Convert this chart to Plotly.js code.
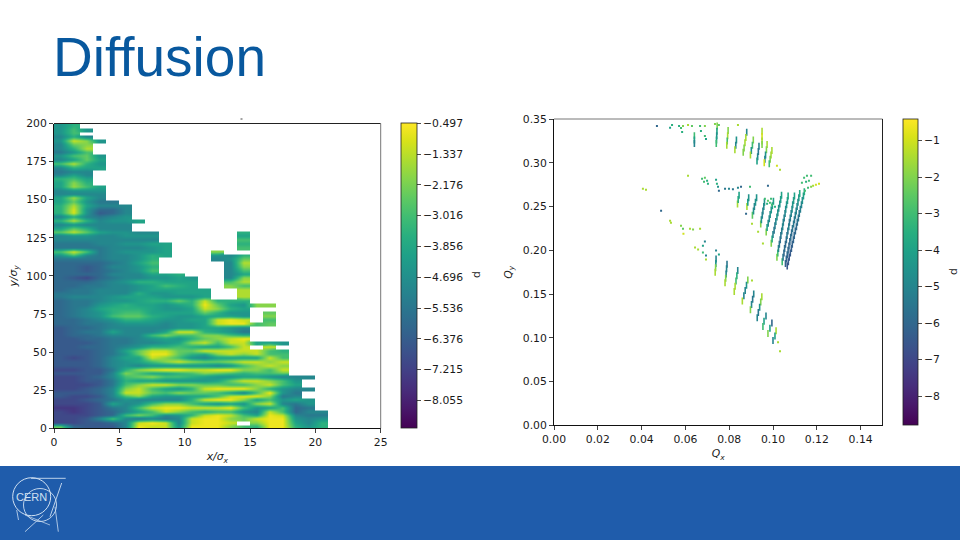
<!DOCTYPE html>
<html>
<head>
<meta charset="utf-8">
<script src="https://cdn.plot.ly/plotly-3.0.1.min.js"></script>
<style>html,body{margin:0;padding:0;background:#fff}#c{width:960px;height:540px}</style>
</head>
<body>
<div id="c"></div>
<script>
const _ = null;
const titleText = "Diffusion";
const leftColorTicks = [-0.497,-1.337,-2.176,-3.016,-3.856,-4.696,-5.536,-6.376,-7.215,-8.055];
const rightColorTicks = [-1,-2,-3,-4,-5,-6,-7,-8];

// d on the x/sigma_x, y/sigma_y grid; first row y=198.75, last y=1.25, columns x=0.5..20.5
const dRows = [
[-4.5,-3.5],
[-4.5,-3,-4.5],
[-4.5,-3],
[-5,-3.5,-5],
[-4.5,-1.2,-2,-4.5],
[-5,-2.5,-2],
[-5,-3.5,-1.5],
[-5.5,-4.5,-3],
[-4.5,-3,-2.5,-4.5],
[-5,-4,-2.5,-4],
[-3,-1.5,-3.5,-4.5],
[-5,-3.5,-4,-4],
[-5.5,-5,-5],
[-5,-4,-5],
[-3.5,-3,-4],
[-4,-2,-3.5],
[-4,-1.8,-3,-4],
[-5,-4.5,-4.5,-4.5],
[-5,-5,-5,-5],
[-4,-1.8,-4,-5],
[-4,-2.5,-4.5,-5.5,-5.5],
[-3.5,-1.5,-4,-5,-5,-5],
[-3.5,-1,-4.5,-6,-6,-5],
[-3.5,-1,-4.5,-6.5,-6,-5],
[-5,-3.5,-5,-5.5,-5,-4.5],
[-3.5,-1.5,-3.5,-5,-4.5,-4.5,-4],
[-5,-4.5,-5,-5,-5,-5],
[-4,-2.5,-3.5,-5,-5,-5],
[-2.5,-1.2,-2.5,-4,-4.5,-4.5,-5,-5,_,_,_,_,_,_,-3.5],
[-5,-4.5,-4.5,-5,-5,-4.5,-4.5,-4.5,_,_,_,_,_,_,-4],
[-5,-5,-5,-5,-5,-5,-5,-5,_,_,_,_,_,_,-3],
[-5.5,-5.5,-5.5,-5,-5,-4.5,-4.5,-4,-4,_,_,_,_,_,-3.5],
[-5.5,-5.5,-5.5,-5.5,-5,-5,-5,-4.5,-4,_,_,_,_,_,-3],
[-3,-1.2,-3,-5.5,-5,-4.5,-4.5,-4.5,-4,_,_,_,-2,_,_],
[-4.5,-3,-5,-5.5,-5,-5,-4.5,-3.5,-4,_,_,_,-4.5,-5,-3.5],
[-5.5,-5.5,-5.5,-5.5,-5,-5,-4.5,-3.5,_,_,_,_,-5,-4.5,-2.5],
[-6,-6,-6,-6,-5.5,-5,-4,-3,_,_,_,_,_,-5,-1.5],
[-6,-6,-6.5,-6,-5,-5,-4.5,-3.5,_,_,_,_,_,-5,-2],
[-6,-6,-6.5,-6,-5.5,-5,-4.5,-3,_,_,_,_,_,-5,-3],
[-6,-6,-6,-6,-5,-5,-5,-4,-4,-3.5,_,_,_,-5,-4],
[-6,-6.5,-7,-6,-5.5,-5,-5,-4.5,-4.5,-4,-4.5,_,_,-5,-2],
[-6,-6,-6,-5.5,-5,-4.5,-3.5,-3.5,-4,-4,-4,_,_,-3,-1.5],
[-6,-6,-5.5,-5.5,-5,-5,-4.5,-4,-3,-3.5,-4,_,_,-2,-3],
[-6,-5.5,-5.5,-5,-5,-5,-4.5,-4,-4,-4,-4,-4,_,_,-1.5],
[-5.5,-5.5,-5.5,-5,-5,-5,-3.5,-4.5,-4.5,-4,-4,-4,_,_,-1.5],
[-5.5,-5,-5,-5,-4.5,-4,-4,-4,-4.5,-4.5,-4.5,-4,_,_,-1.5],
[-6,-5.5,-5.5,-5,-4.5,-4.5,-4,-3.5,-3.5,-2.5,-3.5,-1.2,-3.5,-3.5,-3.5],
[-6,-5.5,-5.5,-4.5,-4,-3.5,-4,-4,-4.5,-4,-3.5,-0.7,-2.5,-4,-4.5,-2,-2],
[-6,-5.5,-5,-4,-3.5,-3.5,-3.5,-4,-4.5,-4.5,-4,-1.2,-2,-3.5,-4],
[-6,-5.5,-5,-4.5,-3.5,-3,-3,-4,-4,-4,-4,-2.5,-3.5,-4.5,-4.5,_,-2.5],
[-6,-5.5,-5,-4.5,-3,-2.5,-2.5,-3.5,-4,-4.5,-4.5,-4,-4,-4,-4.5,_,-2],
[-6,-6,-5.5,-5,-4.5,-3.5,-3.5,-4,-4.5,-4.5,-4,-4,-1.2,-0.7,-1.2,_,-3],
[-6,-6,-5.5,-5.5,-5,-4.5,-4.5,-4.5,-5,-4.5,-4.5,-4,-1.2,-0.7,-0.7,-3,-2.5],
[-6.5,-6,-6,-5.5,-5,-5,-5,-5,-5,-4.5,-4.5,-4,-4,-4.5,-5],
[-6.5,-6,-5.5,-5.5,-4,-5,-5,-5,-4,-1.2,-1.2,-3.5,-4,-4.5,-5.5],
[-6.5,-6,-6,-5.5,-5,-5,-5,-3,-2,-3,-3,-2,-2,-3,-3.5],
[-6.5,-6.5,-6,-6,-5.5,-5.5,-5,-4.5,-4,-4.5,-3.5,-2.5,-2,-1.2,-0.7],
[-6.5,-6.5,-6.5,-6,-5.5,-5.5,-5,-5,-4.5,-4,-2,-1.2,-3,-1.2,-1.2,-4,-4,-4.5],
[-6.5,-6.5,-6,-6,-5.5,-5,-4.5,-3.5,-3.5,-3,-3.5,-4,-4,-3,-1.2,_,-1.2],
[-6.5,-6.5,-6.5,-6,-5.5,-4,-2.5,-1.2,-1.2,-2.5,-2.5,-1.2,-1.2,-1.2,-1.2,-1.2,-3,-3.5],
[-6.5,-6.5,-6.5,-6,-5.5,-4.5,-2.5,-0.7,-0.7,-2.5,-3.5,-4,-2,-1.2,-2,-1.2,-3,-3],
[-6.5,-7,-6.5,-6,-5,-4,-4,-1.2,-2,-3,-4.5,-5,-4,-4,-4,-4,-1.2,-3],
[-6.5,-6.5,-6.5,-6,-5,-4.5,-4,-3,-2,-1.2,-2,-2.5,-2.5,-2,-1.2,-1.2,-2,-1.2],
[-6.5,-6.5,-6.5,-6,-5,-4.5,-5,-4.5,-4.5,-4.5,-4.5,-4.5,-5,-4.5,-3,-2,-1.2,-2],
[-7,-7,-6.5,-6.5,-5.5,-3.5,-2,-1.2,-0.7,-0.7,-1.2,-1.2,-0.7,-0.7,-2,-2,-3,-1.2],
[-6.5,-6.5,-6.5,-6.5,-5,-2,-3,-4,-4,-3.5,-3,-2,-2.5,-3,-3.5,-3,-3,-2.5],
[-7,-7,-6.5,-6,-5,-3,-2.5,-2,-3,-3,-3.5,-4,-4.5,-4.5,-4,-4,-4.5,-5,-5,-5],
[-7,-7,-6.5,-6.5,-5.5,-3.5,-4,-4,-4.5,-4.5,-4.5,-4.5,-4,-2.5,-1.2,-1.2,-2,-3,-4.5],
[-7,-7,-7,-6.5,-5.5,-3,-2,-1.2,-1.2,-2,-2,-2.5,-2.5,-3,-3,-2,-1.2,-3,-4],
[-7,-7,-6.5,-6,-5,-2,-1.2,-3,-4,-4.5,-3.5,-1.2,-0.7,-0.7,-0.7,-2,-3.5,-4.5,-5,-5],
[-6.5,-6.5,-6.5,-6,-5,-1.2,-1.2,-2.5,-3,-2,-2.5,-2.5,-3,-4,-5,-3,-0.7,-4.5,-5.5],
[-6.5,-7,-7,-6.5,-5,-3,-2,-4,-4.5,-4.5,-4,-4,-3,-1.2,-0.7,-0.7,-2,-5.5,-5],
[-7,-7,-6.5,-6,-5.5,-4.5,-5,-5,-5,-5,-3.5,-1.2,-0.7,-0.7,-2,-4,-3,-4.5,-4,-4.5],
[-7,-7,-7,-6.5,-4,-5,-4.5,-3,-2,-2,-3,-4,-4.5,-4,-4.5,-2,-1.2,-5,-5.5,-4.5],
[-7.5,-7.5,-7,-6.5,-5.5,-5,-3,-1.2,-0.7,-0.7,-1.2,-1.2,-1.2,-0.7,-3,-4.5,-4,-3,-6,-5.5],
[-7,-7.5,-7,-6.5,-6,-5,-4,-3,-1.2,-2,-3,-3.5,-3,-3,-4.5,-5,-1.2,-3,-6,-5,-5],
[-7,-7,-7,-6.5,-6,-3,-2,-3,-5,-4.5,-3.5,-1.2,-0.7,-1.2,-3,-4,-0.7,-1.2,-5,-5.5,-5.5],
[-7,-7,-6.5,-5,-3,-5,-5.5,-5,-5.5,-5,-1.2,-0.7,-0.7,-2,-2.5,-1.2,-0.7,-0.7,-4.5,-5,-4.5],
[-7,-7,-6.5,-6.5,-6,-5,-1.2,-0.7,-1.2,-5,-1.2,-0.7,-0.7,-1.2,_,-2,-0.7,-0.7,-4,-5,-3.5],
[-2.5,-6,-6.5,-6.5,-6.5,-5,-0.7,-1.2,-1.2,-4.5,-0.7,-0.7,-0.7,-2,-3,-3.5,-0.7,-0.7,-3.5,-4.5,-3.5]
];

// tune footprint: core stripes
const coreQx = [.1065,.1070,.1074,.1079,.1084,.1088,.1093,.1097,.1102,.1107,.1111,.1116,.1120,.1125,.1130,.1134,.1139,.1143,
.1057,.1061,.1065,.1069,.1073,.1077,.1081,.1085,.1089,.1094,.1098,.1102,.1106,.1110,.1114,.1118,.1122,
.1042,.1046,.1050,.1053,.1057,.1061,.1064,.1068,.1072,.1075,.1079,.1083,.1087,.1090,.1094,.1098,
.1018,.1022,.1025,.1029,.1033,.1036,.1040,.1044,.1047,.1051,.1055,.1058,.1062,.1066,.1069,
.0992,.0996,.1000,.1005,.1009,.1013,.1018,.1022,.1026,.1031,.1035,.1039,
.0969,.0973,.0978,.0983,.0987,.0992,.0997,.1002,
.0944,.0947,.0951,.0954,.0958,.0961,
.0906,.0911,.0915,.0920,.0925,
.0881,.0885,.0889,
.0838,.0841,.0845];
const coreQy = [.182,.187,.192,.197,.202,.207,.212,.217,.222,.227,.232,.237,.242,.247,.252,.257,.262,.267,
.185,.190,.195,.200,.205,.210,.215,.220,.225,.230,.235,.240,.245,.250,.255,.260,.265,
.187,.192,.197,.202,.207,.212,.217,.222,.227,.232,.237,.242,.247,.252,.257,.262,
.192,.197,.202,.207,.212,.217,.222,.227,.232,.237,.242,.247,.252,.257,.262,
.208,.213,.218,.223,.228,.233,.238,.243,.248,.253,.258,.263,
.221,.226,.231,.236,.241,.246,.251,.256,
.230,.235,.240,.245,.250,.255,
.240,.245,.250,.255,.260,
.250,.255,.260,
.253,.258,.263];
const coreD = [-6.6,-6.5,-6.5,-6.4,-6.3,-6.2,-6.1,-6,-6,-5.9,-5.7,-5.5,-5.5,-5.2,-5,-4.6,-4.2,-3.6,
-6.2,-6.2,-6,-6,-6.1,-6,-5.8,-5.8,-5.6,-5.5,-5.5,-5.3,-5,-5,-4.6,-4.3,-3.8,
-3,-5.5,-6,-5.8,-6,-5.8,-5.5,-5.5,-5,-5.5,-5.3,-5,-4.8,-4.5,-4.2,-4,
-2,-3,-5,-5.5,-5.8,-5.5,-5.3,-5,-5,-5.2,-5,-4.8,-4.5,-4.2,-3.8,
-2,-3.5,-5,-5.5,-5.3,-5,-4.5,-4.5,-4.6,-4.5,-4.2,-4,
-2,-4,-4.8,-4.8,-4.5,-4.4,-4,-4,
-2,-4.5,-5,-5,-4.8,-4.5,
-2.5,-4.5,-5,-4.5,-4.5,
-1.5,-4,-4.5,
-1.5,-3.5,-4];

// upper wing stripes
const upperQx = [.0745,.0744,.0743,.0742,.0741, .0641,.0641,.0641, .0795,.0793,.0791,.0789, .0833,.0830,.0826,
.0880,.0876,.0872,.0868,.0864, .0910,.0906,.0901,.0897, .0936,.0933,.0930,.0927, .0950,.0950,.0950,.0950,
.0973,.0970,.0966,.0963,.0960, .0995,.0991,.0987,.0983];
const upperQy = [.342,.336,.331,.326,.322, .331,.326,.322, .337,.331,.325,.320, .326,.320,.315,
.335,.329,.323,.317,.312, .326,.320,.314,.309, .319,.313,.307,.302, .336,.330,.325,.321,
.321,.315,.309,.304,.300, .314,.309,.304,.299];
const upperD = [-2,-4,-4.5,-4,-3, -3,-4,-5, -2,-1.5,-3,-1.5, -4.5,-5,-1.5,
-5,-1.5,-1.5,-2,-2, -2,-3,-4.5,-1.5, -5,-5.5,-5,-4, -1.5,-1,-1.5,-2,
-1.5,-2,-4.5,-5,-1, -1.5,-1.5,-2,-3];

// lower wing stripes
const lowerQx = [.0740,.0739,.0738,.0736, .0790,.0788,.0786,.0784,.0781, .0839,.0835,.0831,.0827,.0823,
.0885,.0879,.0873,.0867,.0860, .0912,.0907,.0902,.0897, .0949,.0944,.0939,.0933,.0928,
.0968,.0959,.0954, .0995,.0986,.0977, .1014,.1009,.1000];
const lowerQy = [.190,.185,.180,.175, .184,.179,.173,.168,.163, .177,.171,.165,.159,.153,
.166,.160,.154,.148,.142, .150,.144,.138,.132, .147,.141,.135,.129,.123,
.125,.119,.113, .117,.111,.105, .108,.102,.097];
const lowerD = [-5,-4.5,-2,-1.5, -5.5,-5,-5,-2,-1.5, -5,-3.5,-3,-1.5,-1.5,
-2,-4.5,-5,-5,-1.5, -5,-5.5,-5,-2, -1.5,-2,-4.5,-5.5,-5,
-5,-4,-3, -6,-4,-2, -1.5,-4,-5];

// isolated specks
const speckQx = [.0470,.0530,.0539,.0571,.0580,.0585,.0589,.0612,.0630,.0667,.0689,.0671,.0689,.0694,.0735,.0753,.0840,.1018,.1032,
.0406,.0420,.0612,.0676,.0689,.0699,.0685,.0703,.0740,.0744,.0749,.0753,.0781,.0799,.0817,.0840,.0854,.0895,.0977,.0877,
.0963,.0977,.0986,.0995,.1009,.0973,.0991,
.1132,.1142,.1155,.1174,.1151,.1164,.1146,.1160,.1174,.1183,.1196,.1210,
.0489,.0530,.0534,.0580,.0589,.0591,.0621,.0667,.0635,.0689,.0680,.0644,.0658,.0680,.0694,.0694,.0740,.0753,.0904,.1023,.1032,.0904,.0932,.0954];
const speckQy = [.3420,.3401,.3432,.3420,.3397,.3352,.3420,.3432,.3420,.3420,.3420,.3363,.3306,.3272,.3443,.3432,.3432,.2965,.2919,
.2703,.2691,.2851,.2817,.2828,.2794,.2782,.2760,.2805,.2760,.2726,.2680,.2703,.2703,.2697,.2714,.2726,.2726,.2737,.2418,
.2589,.2566,.2543,.2520,.2498,.2532,.2589,
.2771,.2828,.2851,.2851,.2783,.2794,.2680,.2714,.2726,.2737,.2748,.2760,
.2452,.2338,.2315,.2281,.2247,.2190,.2247,.2247,.2236,.2099,.2053,.2031,.2008,.1974,.1940,.1894,.1997,.1951,.1655,.0949,.0846,.2304,.2213,.2076];
const speckD = [-6,-4,-3.5,-3.5,-3,-3.5,-2,-1.5,-2.5,-3,-2,-3.5,-3,-4,-2,-2.5,-1.5,-1,-1.5,
-1.5,-1.5,-1.5,-3,-2.5,-3.5,-3,-3.5,-4,-3.5,-4.5,-6,-5.5,-5,-5.5,-5,-6,-3,-6,-6,
-3,-2.5,-3,-3,-3.5,-3.5,-3,
-3,-3,-3,-3,-3.5,-3,-3,-3,-2,-1.5,-1,-1,
-6,-1.5,-1.5,-2,-2.5,-1,-1.5,-1.5,-2,-5,-4,-1.5,-1.5,-3,-5,-1.5,-5,-4,-1.5,-1.5,-1.5,-1.5,-1.5,-1.5];

const W = 960, H = 540;
const fx = p => p / W, fy = p => 1 - p / H;
const tickFont = {family:'"DejaVu Sans", sans-serif', size:10.8, color:'#1a1a1a'};
const minus = v => String(v).replace('-', '\u2212');

const L = {x0:54, x1:380.7, top:123.5, bot:428.3};
const R = {x0:554, x1:882.5, top:119, bot:425.3};

const grid = dRows.map(r => Array.from({length:21}, (u,i) => (r[i] === undefined ? null : r[i]))).reverse();

const traces = [
  {type:'heatmap', xaxis:'x', yaxis:'y', z:grid, x0:0.5, dx:1, y0:1.25, dy:2.5,
   zsmooth:'best', colorscale:'Viridis', zmin:-8.82, zmax:-0.497, hoverinfo:'skip',
   colorbar:{x:fx(401.3), xanchor:'left', xpad:0, ypad:0, y:fy(428.4), yanchor:'bottom', len:304.9/H,
     thickness:15.7, outlinewidth:0.8, outlinecolor:'#222', ticks:'outside', ticklen:4, tickwidth:0.8, tickcolor:'#222',
     tickmode:'array', tickvals:leftColorTicks, ticktext:leftColorTicks.map(minus), tickfont:tickFont}},
  {type:'scatter', mode:'markers', xaxis:'x2', yaxis:'y2',
   x:coreQx.concat(upperQx, lowerQx), y:coreQy.concat(upperQy, lowerQy), hoverinfo:'skip',
   marker:{symbol:'line-ns-open', size:5, color:coreD.concat(upperD, lowerD), colorscale:'Viridis', cmin:-8.79, cmax:-0.414,
     line:{width:1.6},
     colorbar:{x:fx(903.3), xanchor:'left', xpad:0, ypad:0, y:fy(425.1), yanchor:'bottom', len:305.8/H,
       thickness:15, outlinewidth:0.8, outlinecolor:'#222', ticks:'outside', ticklen:4, tickwidth:0.8, tickcolor:'#222',
       tickmode:'array', tickvals:rightColorTicks, ticktext:rightColorTicks.map(minus), tickfont:tickFont}}},
  {type:'scatter', mode:'markers', xaxis:'x2', yaxis:'y2', x:speckQx, y:speckQy, hoverinfo:'skip', showlegend:false,
   marker:{symbol:'square', size:2, color:speckD, colorscale:'Viridis', cmin:-8.79, cmax:-0.414, showscale:false, line:{width:0}}}
];

const axisBase = {showgrid:false, zeroline:false, showline:true, linecolor:'#111', linewidth:1, ticks:'outside',
  ticklen:4, tickwidth:0.8, tickcolor:'#111', tickfont:tickFont, fixedrange:true};

function seg(x0,y0,x1,y1,color,width){
  return {type:'line', xref:'paper', yref:'paper', x0:fx(x0), y0:fy(y0), x1:fx(x1), y1:fy(y1), line:{color:color, width:width}};
}
function ring(cx,cy,r,color,width){
  return {type:'circle', xref:'paper', yref:'paper', x0:fx(cx-r), x1:fx(cx+r), y0:fy(cy+r), y1:fy(cy-r), line:{color:color, width:width}, fillcolor:'rgba(0,0,0,0)'};
}
const logo = '#cfe0f2';
const shapes = [
  {type:'rect', xref:'paper', yref:'paper', x0:0, x1:1, y0:0, y1:fy(466), fillcolor:'#1f5cab', line:{width:0}, layer:'below'},
  seg(L.x0,L.top,L.x1,L.top,'#222',1),
  seg(L.x1,L.top,L.x1,L.bot,'#777',1),
  seg(R.x0,R.top,R.x1,R.top,'#777',1),
  seg(R.x1,R.top,R.x1,R.bot,'#222',1),
  seg(240.5,119,242.5,119,'#444',1),
  ring(31.7,496.7,19,logo,1),
  ring(40,505,16.5,logo,0.9),
  seg(31,478.3,65.7,478.3,logo,0.9),
  seg(61.7,483,50,516.7,logo,0.9),
  seg(16.7,510,18.5,520,logo,0.8),
  seg(55,506.7,58.3,531.7,logo,0.8),
  seg(25,531.7,43.3,515,logo,0.8),
  seg(25,515,50,525,logo,0.7)
];

const axisTitleFont = tickFont;
const layout = {
  width:W, height:H, margin:{l:0,r:0,t:0,b:0}, paper_bgcolor:'#fff', plot_bgcolor:'#fff', showlegend:false,
  xaxis:Object.assign({}, axisBase, {domain:[fx(L.x0),fx(L.x1)], anchor:'y', range:[0,25], tickvals:[0,5,10,15,20,25],
    title:{text:'<i>x/σ<sub>x</sub></i>', font:axisTitleFont, standoff:4}}),
  yaxis:Object.assign({}, axisBase, {domain:[fy(L.bot),fy(L.top)], anchor:'x', range:[0,200], tickvals:[0,25,50,75,100,125,150,175,200],
    title:{text:'<i>y/σ<sub>y</sub></i>', font:axisTitleFont, standoff:6}}),
  xaxis2:Object.assign({}, axisBase, {domain:[fx(R.x0),fx(R.x1)], anchor:'y2', range:[0,0.15], tickvals:[0,.02,.04,.06,.08,.10,.12,.14],
    ticktext:['0.00','0.02','0.04','0.06','0.08','0.10','0.12','0.14'],
    title:{text:'<i>Q<sub>x</sub></i>', font:axisTitleFont, standoff:4}}),
  yaxis2:Object.assign({}, axisBase, {domain:[fy(R.bot),fy(R.top)], anchor:'x2', range:[0,0.35], tickvals:[0,.05,.10,.15,.20,.25,.30,.35],
    ticktext:['0.00','0.05','0.10','0.15','0.20','0.25','0.30','0.35'],
    title:{text:'<i>Q<sub>y</sub></i>', font:axisTitleFont, standoff:8}}),
  shapes:shapes,
  annotations:[
    {xref:'paper', yref:'paper', x:fx(50.5), y:fy(57), xanchor:'left', yanchor:'middle', showarrow:false, text:titleText,
     font:{family:'"Liberation Sans", Arial, sans-serif', size:55, color:'#08589e'}},
    {xref:'paper', yref:'paper', x:fx(476), y:fy(275), xanchor:'center', yanchor:'middle', showarrow:false, text:'d', textangle:-90, font:tickFont},
    {xref:'paper', yref:'paper', x:fx(953), y:fy(272), xanchor:'center', yanchor:'middle', showarrow:false, text:'d', textangle:-90, font:tickFont},
    {xref:'paper', yref:'paper', x:fx(31), y:fy(497), xanchor:'center', yanchor:'middle', showarrow:false, text:'CERN',
     font:{family:'"Liberation Sans", Arial, sans-serif', size:11, color:logo}}
  ]
};

Plotly.newPlot('c', traces, layout, {staticPlot:true, displayModeBar:false});
</script>
</body>
</html>
